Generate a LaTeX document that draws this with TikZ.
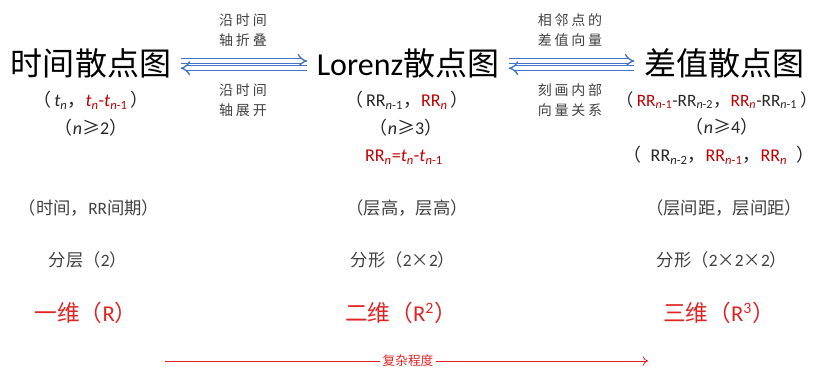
\documentclass[tikz,border=0pt]{standalone}
\usepackage{fontspec}
\setmainfont{Carlito}
\newfontfamily\cj{Noto Sans CJK SC}
\newfontfamily\cjs{Noto Sans CJK SC}[LetterSpace=20]
\usetikzlibrary{arrows.meta}
\definecolor{dred}{HTML}{C00000}
\definecolor{bred}{HTML}{E02424}
\definecolor{ablue}{HTML}{4472C4}
\definecolor{tgray}{HTML}{404040}
\newcommand\subn[1]{\textsubscript{\textit{n}#1}}
\newcommand\rd[1]{\textcolor{dred}{#1}}
\newcommand\cjt[1]{{\cj #1}}
\tikzset{
  title/.style={inner sep=0pt, text=black, font=\fontsize{24}{28}\selectfont},
  sub/.style={inner sep=0pt, text=black!85, font=\fontsize{13.5}{16}\selectfont},
  lab/.style={inner sep=0pt, text=tgray, font=\cjs\fontsize{10.5}{13}\selectfont},
  row/.style={inner sep=0pt, text=tgray, font=\fontsize{13}{15}\selectfont},
  dim/.style={inner sep=0pt, text=bred, font=\fontsize{17}{20}\selectfont},
  dbl/.style={draw=ablue, double=white, double distance=2.6pt, line width=1pt, -{Implies}, shorten <=7pt, shorten >=7pt},
}
\begin{document}
\begin{tikzpicture}[x=0.75pt, y=-0.75pt]
\useasboundingbox (0,0) rectangle (816,367);
% titles
\node[title] (t1) at (91,63) {\cj 时间散点图};
\node[title] (t2) at (408,63) {Lorenz\cj 散点图};
\node[title] (t3) at (724,63) {\cj 差值散点图};
% arrows between titles
\draw[dbl] ([yshift=1.5pt]t1.east) -- ([yshift=1.5pt]t2.west);
\draw[dbl] ([yshift=-3.9pt]t2.west) -- ([yshift=-3.9pt]t1.east);
\draw[dbl] ([yshift=1.5pt]t2.east) -- ([yshift=1.5pt]t3.west);
\draw[dbl] ([yshift=-3.9pt]t3.west) -- ([yshift=-3.9pt]t2.east);
% arrow labels
\node[lab] (l1) at (243,20) {沿时间};
\node[lab] (l2) at (243,40) {轴折叠};
\node[lab] (l3) at (243,90) {沿时间};
\node[lab] (l4) at (243,110) {轴展开};
\node[lab] (r1) at (570,20) {相邻点的};
\node[lab] (r2) at (570,40) {差值向量};
\node[lab] (r3) at (570,90) {刻画内部};
\node[lab] (r4) at (570,110) {向量关系};
% sub lines
\node[sub] (a1) at (91,100) {\cjt{（}\,\textit{t}\subn{}\cjt{，}\rd{\textit{t}\subn{}-\textit{t}\subn{-1}}\,\cjt{）}};
\node[sub] (a2) at (91,128) {\cjt{（}\textit{n}\cjt{≥}2\cjt{）}};
\node[sub] (b1) at (407,100) {\cjt{（}\,RR\subn{-1}\cjt{，}\rd{RR\subn{}}\,\cjt{）}};
\node[sub] (b2) at (406,128) {\cjt{（}\textit{n}\cjt{≥}3\cjt{）}};
\node[sub] (b3) at (404,157) {\rd{RR\subn{}=\textit{t}\subn{}-\textit{t}\subn{-1}}};
\node[sub, font=\fontsize{13}{16}\selectfont] (c1) at (717,100) {\cjt{（}\,\rd{RR\subn{-1}}-RR\subn{-2}\cjt{，}\rd{RR\subn{}}-RR\subn{-1}\,\cjt{）}};
\node[sub] (c2) at (722,127) {\cjt{（}\textit{n}\cjt{≥}4\cjt{）}};
\node[sub] (c3) at (719,155) {\cjt{（}\enspace RR\subn{-2}\cjt{，}\rd{RR\subn{-1}}\cjt{，}\rd{RR\subn{}}\enspace\cjt{）}};
% rows
\node[row] (p1) at (89,208) {\cjt{（时间，}RR\cjt{间期）}};
\node[row] (p2) at (407,208) {\cjt{（层高，层高）}};
\node[row] (p3) at (724,208) {\cjt{（层间距，层间距）}};
\node[row] (q1) at (88,260) {\cjt{分层（}2\cjt{）}};
\node[row] (q2) at (403,260) {\cjt{分形（}2\cjt{×}2\cjt{）}};
\node[row] (q3) at (722,260) {\cjt{分形（}2\cjt{×}2\cjt{×}2\cjt{）}};
\node[dim] (d1) at (86,313) {\cjt{一维（}R\cjt{）}};
\node[dim] (d2) at (401,313) {\cjt{二维（}R\textsuperscript{2}\cjt{）}};
\node[dim] (d3) at (719,313) {\cjt{三维（}R\textsuperscript{3}\cjt{）}};
% complexity arrow
\coordinate (s0) at (165,361);
\coordinate (s1) at (648,361);
\node[inner sep=2pt, text=bred, font=\cj\fontsize{9.5}{11}\selectfont] (cx) at (408,361) {复杂程度};
\draw[bred, line width=0.6pt] (s0) -- (cx.west);
\draw[bred, line width=0.6pt, -{To[length=4pt,width=7pt]}] (cx.east) -- (s1);
\end{tikzpicture}
\end{document}
